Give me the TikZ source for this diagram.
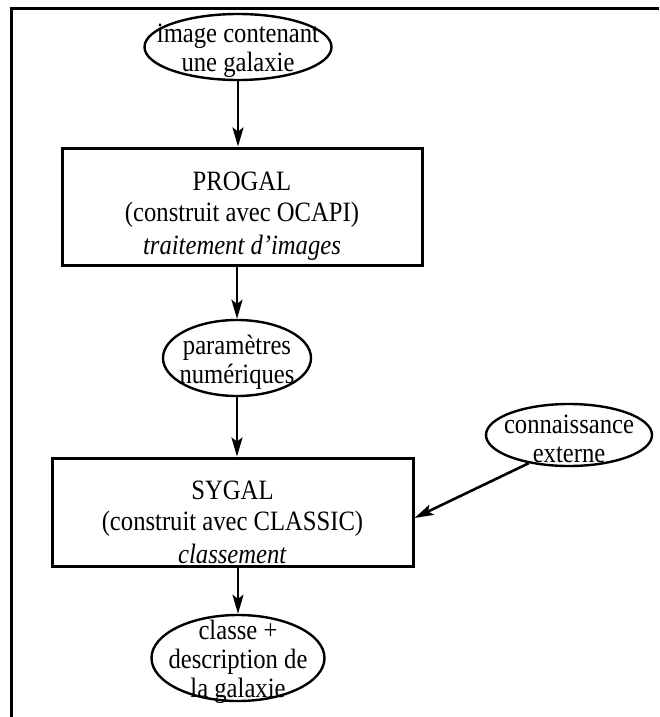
\documentclass[tikz,border=0pt]{standalone}
\usepackage{fontspec}
\setmainfont{Liberation Serif}[FakeStretch=0.88]
\usetikzlibrary{arrows.meta,shapes.geometric}

\begin{document}
\begin{tikzpicture}[x=1pt, y=-1pt,
		every label/.style={font=\fontsize{28}{31}\selectfont, align=center, inner sep=0pt},
		oval/.style={draw, ellipse, line width=2.4pt, inner sep=0pt},
		ovaltext/.style={yshift=-4pt, font=\fontsize{28}{29}\selectfont},
		box/.style={draw, rectangle, line width=3pt, inner sep=0pt},
		arr/.style={line width=2.6pt, -{Stealth[length=19pt, width=11pt, inset=4pt]}}]
			%%%%% START %%%%%
			
			\useasboundingbox (0, 0) rectangle (659, 717);
			\draw[line width=3pt] (11, 717) -- (11, 9) -- (659, 9);
			
			\node[oval, minimum width=187pt, minimum height=66pt,
				label={[ovaltext]center:{image contenant\\une galaxie}}] (img) at (238, 47) {};
			\node[box, minimum width=360pt, minimum height=117pt,
				label={[yshift=-10pt]center:{PROGAL\\(construit avec OCAPI)\\[2pt]\textit{traitement d'images}}}] (progal) at (242, 206.5) {};
			
			\node[oval, minimum width=148pt, minimum height=76pt,
				label={[ovaltext]center:{paramètres\\numériques}}] (param) at (237, 358) {};
			
			\node[box, minimum width=361pt, minimum height=108pt,
				label={[yshift=-10pt]center:{SYGAL\\(construit avec CLASSIC)\\[2pt]\textit{classement}}}] (sygal) at (232.5, 512) {};
			\node[oval, minimum width=166pt, minimum height=62pt,
				label={[ovaltext]center:{connaissance\\externe}}] (ext) at (569, 435) {};
			
			\node[oval, minimum width=173pt, minimum height=86pt,
				label={[ovaltext]center:{classe +\\description de\\la galaxie}}] (classe) at (238, 658) {};
			
			\draw[arr] (img) -- (img |- progal.north);
			\draw[arr] (param |- progal.south) -- (param);
			\draw[arr] (param) -- (param |- sygal.north);
			\draw[arr] (ext.215) -- ([yshift=-6pt]sygal.east);
			\draw[arr] (classe |- sygal.south) -- (classe);
			
			%%%%% END %%%%%
\end{tikzpicture}
\end{document}
